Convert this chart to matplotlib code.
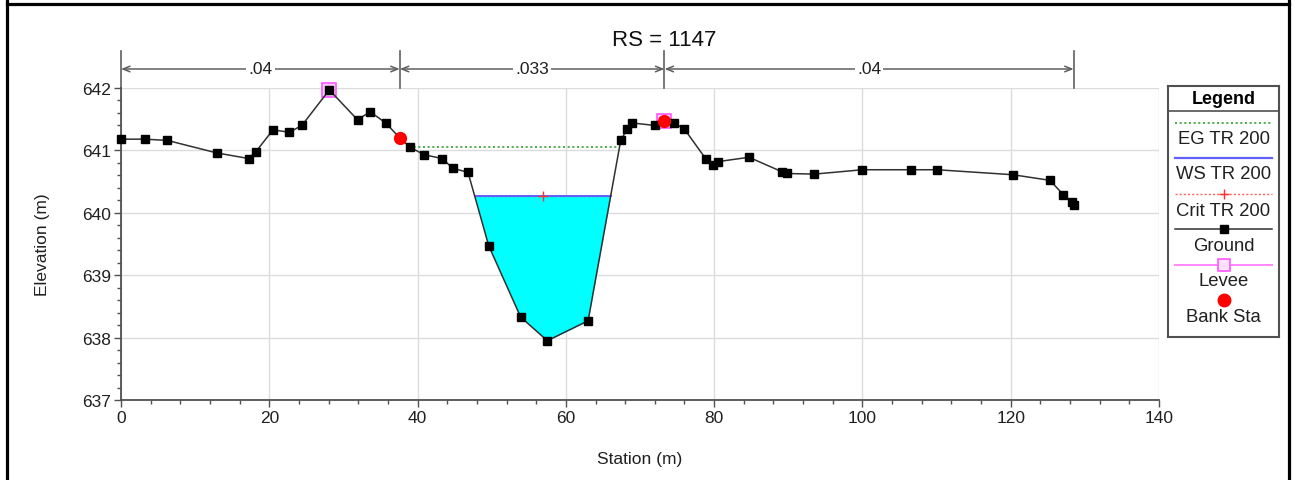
import numpy as np
import matplotlib
matplotlib.use("Agg")
import matplotlib.pyplot as plt
from matplotlib.lines import Line2D
import matplotlib.transforms as mtransforms

plt.rcParams['font.family'] = ['Liberation Sans', 'DejaVu Sans']

# Ground survey points (station m, elevation m)
ground_sta = [0.0, 3.2, 6.25, 12.9, 17.2, 18.2, 20.5, 22.7, 24.4, 28.1, 31.9, 33.6,
              35.7, 37.6, 39.0, 40.9, 43.3, 44.8, 46.8, 49.6, 53.9, 57.5, 63.0,
              67.4, 68.3, 68.9, 72.0, 73.3, 74.6, 76.0, 78.9, 79.8, 80.5, 84.7,
              89.1, 89.8, 93.5, 100.0, 106.6, 110.1, 120.3, 125.3, 127.1, 128.3, 128.6]
ground_elev = [641.18, 641.18, 641.16, 640.96, 640.87, 640.98, 641.33, 641.29, 641.40,
               641.97, 641.49, 641.62, 641.44, 641.20, 641.05, 640.93, 640.87, 640.71,
               640.65, 639.47, 638.33, 637.95, 638.27, 641.16, 641.35, 641.44, 641.40,
               641.47, 641.44, 641.34, 640.86, 640.77, 640.82, 640.89, 640.66, 640.63,
               640.62, 640.69, 640.69, 640.69, 640.61, 640.52, 640.29, 640.17, 640.13]

# Levees and bank stations
levee_sta = [28.1, 73.3]
levee_elev = [641.97, 641.47]
bank_sta = [37.6, 73.3]
bank_elev = [641.20, 641.47]

# Profile TR 200 results
ws_elev = 640.27
crit_elev = 640.27
eg_elev = 641.06

# Manning's n regions
n_breaks = [0.0, 37.6, 73.3, 128.5]
n_values = ['.04', '.033', '.04']

x = np.array(ground_sta)
z = np.array(ground_elev)


def crossings(level):
    """Stations where the ground profile crosses a water level."""
    pts = []
    for i in range(len(x) - 1):
        z0, z1 = z[i], z[i + 1]
        if (z0 - level) * (z1 - level) < 0:
            pts.append(x[i] + (level - z0) / (z1 - z0) * (x[i + 1] - x[i]))
    return pts


ws_cross = [p for p in crossings(ws_elev) if 40 < p < 70]
eg_cross = [p for p in crossings(eg_elev) if 38 < p < 70]

fig = plt.figure(figsize=(12.95, 4.81), dpi=100)
ax = fig.add_axes([121 / 1295, 1 - 401 / 481, (1159 - 121) / 1295, (401 - 89) / 481])

# water in the channel
xf = np.linspace(ws_cross[0], ws_cross[-1], 600)
zf = np.interp(xf, x, z)
ax.fill_between(xf, zf, ws_elev, color='#00ffff', zorder=2, lw=0)

ax.plot([ws_cross[0], ws_cross[-1]], [crit_elev, crit_elev], color='#ff4040',
        ls=(0, (1.5, 1.5)), lw=1.0, zorder=3)
ax.plot([ws_cross[0], ws_cross[-1]], [ws_elev, ws_elev], color='#6060ff', lw=1.4, zorder=3)
ax.plot([np.mean(ws_cross)], [crit_elev], marker='+', color='#ff3030', ms=7, mew=1.0, zorder=4)
ax.plot([eg_cross[0], eg_cross[-1]], [eg_elev, eg_elev], color='#2e9e2e',
        ls=(0, (1.2, 1.6)), lw=1.2, zorder=3)

ax.plot(levee_sta, levee_elev, ls='none', marker='s', ms=9.5, mfc='#ffd0ff',
        mec='#ff55ff', mew=1.2, zorder=4, clip_on=False)
ax.plot(x, z, color='#303030', lw=1.1, marker='s', ms=6.4, mfc='black', mec='black',
        zorder=5, clip_on=False)
ax.plot(bank_sta, bank_elev, ls='none', marker='o', ms=8.5, mfc='#ff0000',
        mec='#ff0000', zorder=6, clip_on=False)

ax.set_xlim(0, 140)
ax.set_ylim(637, 642)
ax.set_xticks(np.arange(0, 141, 20))
ax.set_yticks(np.arange(637, 643, 1))
ax.set_xticks(np.arange(0, 141, 4), minor=True)
ax.set_yticks(np.arange(637, 642.01, 0.2), minor=True)
ax.grid(True, which='major', color='#dcdcdc', lw=1.0)
ax.set_axisbelow(True)
for s in ('top', 'right'):
    ax.spines[s].set_visible(False)
for s in ('left', 'bottom'):
    ax.spines[s].set_color('#505050')
    ax.spines[s].set_linewidth(1.3)
ax.tick_params(which='major', length=5, width=1.0, color='#505050', labelsize=12.5,
               labelcolor='#202020', pad=2)
ax.tick_params(which='minor', length=3, width=1.0, color='#505050')
ax.set_xlabel('Station (m)', fontsize=12.5, color='#202020', labelpad=19)
ax.set_ylabel('Elevation (m)', fontsize=12.5, color='#202020', labelpad=23)
ax.set_title('RS = 1147', fontsize=16, color='#101010', x=(664 - 121) / (1159 - 121), pad=31)

# n-value dimension lines above the section
trans = mtransforms.blended_transform_factory(ax.transData, ax.transAxes)
y_arrow = (401 - 70) / 312
y_top = (401 - 52) / 312
for b in n_breaks:
    ax.plot([b, b], [1.0, y_top], color='#606060', lw=1.2, transform=trans, clip_on=False)
for i, lab in enumerate(n_values):
    a, b = n_breaks[i], n_breaks[i + 1]
    ax.annotate('', xy=(a, y_arrow), xytext=(b, y_arrow), xycoords=trans, textcoords=trans,
                arrowprops=dict(arrowstyle='<->,head_length=0.5,head_width=0.2',
                                color='#606060', lw=1.1, shrinkA=0, shrinkB=0))
    ax.text((a + b) / 2, y_arrow, lab, transform=trans, ha='center', va='center',
            fontsize=12.5, color='#202020',
            bbox=dict(facecolor='white', edgecolor='none', pad=1.5))

# legend panel
lg = fig.add_axes([1168 / 1295, 1 - 338 / 481, 111 / 1295, (338 - 87) / 481])
lg.set_xlim(0, 1)
lg.set_ylim(338, 87)
lg.set_xticks([])
lg.set_yticks([])
for s in lg.spines.values():
    s.set_color('#505050')
    s.set_linewidth(1.5)
lg.text(0.5, 99, 'Legend', ha='center', va='center', fontsize=13, fontweight='bold')
lg.plot([0, 1], [112, 112], color='#505050', lw=1.2)
sx = [0.06, 0.94]
lg.plot(sx, [124, 124], color='#2e9e2e', ls=(0, (1.2, 1.6)), lw=1.2)
lg.plot(sx, [159, 159], color='#6060ff', lw=1.6)
lg.plot(sx, [195, 195], color='#ff6060', ls=(0, (1.5, 1.5)), lw=1.0)
lg.plot([0.5], [195], marker='+', color='#ff3030', ms=7)
lg.plot(sx, [230, 230], color='#303030', lw=1.1)
lg.plot([0.5], [230], marker='s', ms=6.4, color='black')
lg.plot(sx, [266, 266], color='#ff88ff', lw=1.4)
lg.plot([0.5], [266], marker='s', ms=9, mfc='#ffe0ff', mec='#ff55ff', mew=1.2)
lg.plot([0.5], [301], marker='o', ms=9, color='#ff0000')
for yy, lab in zip([139, 174, 211, 246, 282, 318],
                   ['EG TR 200', 'WS TR 200', 'Crit TR 200', 'Ground', 'Levee', 'Bank Sta']):
    lg.text(0.5, yy, lab, ha='center', va='center', fontsize=13.3, color='#202020')

# outer frame
W, H = 1295, 481
for xs, ys in [([6.5, 6.5], [0, 481]), ([1288.5, 1288.5], [0, 481]), ([6.5, 1288.5], [4.5, 4.5])]:
    fig.add_artist(Line2D([v / W for v in xs], [1 - v / H for v in ys], color='black', lw=2.3))

fig.savefig('out.png', dpi=100)
